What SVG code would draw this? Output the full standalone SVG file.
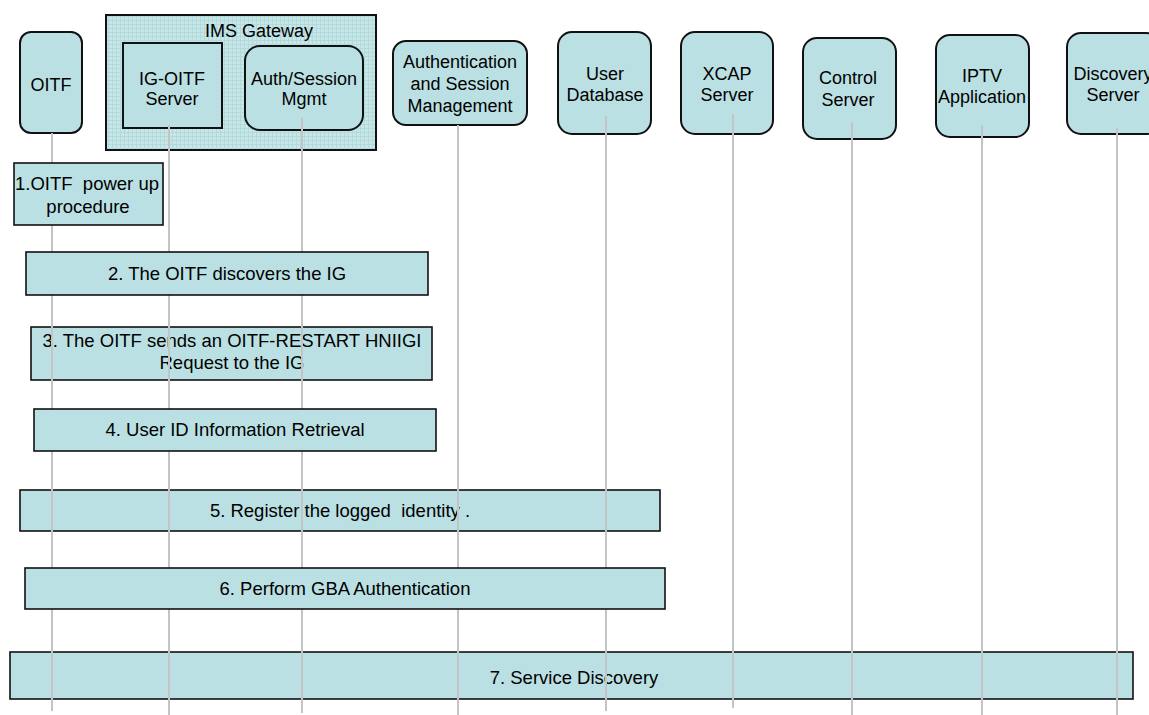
<svg xmlns="http://www.w3.org/2000/svg" width="1149" height="715" viewBox="0 0 1149 715">
<defs>
<pattern id="grid" width="4" height="4" patternUnits="userSpaceOnUse">
<rect width="4" height="4" fill="#c6e6e8"/>
<path d="M0 0.5H4M0.5 0V4" stroke="#b2d9dc" stroke-width="1"/>
</pattern>
</defs>
<style>
text{font-family:"Liberation Sans",Arial,sans-serif;font-size:18px;fill:#000;text-anchor:middle;white-space:pre}
.node{fill:#bae0e3;stroke:#111;stroke-width:2}
.step{fill:#bae0e3;stroke:#111;stroke-width:1.6}
.st{font-size:18.5px}
.life line{stroke:#c4c4c4;stroke-width:2}
</style>
<rect width="1149" height="715" fill="#fff"/>

<g id="ims-gateway">
<rect x="106" y="15" width="270" height="135" fill="url(#grid)" stroke="#111" stroke-width="2"/>
<text x="259" y="37">IMS Gateway</text>
</g>
<g id="oitf">
<rect class="node" x="20" y="32" width="62" height="101" rx="11"/>
<text x="51" y="91">OITF</text>
</g>
<g id="ig-oitf-server">
<rect class="node" x="123" y="43" width="99" height="85"/>
<text x="172" y="85">IG-OITF</text>
<text x="172" y="105">Server</text>
</g>
<g id="auth-session-mgmt">
<rect class="node" x="245" y="46" width="118" height="84" rx="15"/>
<text x="304" y="85">Auth/Session</text>
<text x="304" y="105">Mgmt</text>
</g>
<g id="authentication-session-management">
<rect class="node" x="393" y="41" width="134" height="84" rx="13"/>
<text x="460" y="68">Authentication</text>
<text x="460" y="90">and Session</text>
<text x="460" y="112">Management</text>
</g>
<g id="user-database">
<rect class="node" x="558" y="32" width="93" height="102" rx="14"/>
<text x="605" y="80">User</text>
<text x="605" y="101">Database</text>
</g>
<g id="xcap-server">
<rect class="node" x="681" y="32" width="92" height="102" rx="14"/>
<text x="727" y="80">XCAP</text>
<text x="727" y="101">Server</text>
</g>
<g id="control-server">
<rect class="node" x="803" y="38" width="93" height="101" rx="14"/>
<text x="848" y="84">Control</text>
<text x="848" y="106">Server</text>
</g>
<g id="iptv-application">
<rect class="node" x="936" y="35" width="93" height="102" rx="14"/>
<text x="982" y="82">IPTV</text>
<text x="982" y="103">Application</text>
</g>
<g id="discovery-server">
<rect class="node" x="1067" y="33" width="93" height="101" rx="14"/>
<text x="1113" y="80">Discovery</text>
<text x="1113" y="101">Server</text>
</g>

<g id="step3">
<rect class="step" x="31" y="327" width="401" height="53"/>
<text class="st" x="232" y="347">3. The OITF sends an OITF-RESTART HNIIGI</text>
<text class="st" x="232" y="369">Request to the IG</text>
</g>
<g id="step5">
<rect class="step" x="20" y="490" width="640" height="41"/>
<text class="st" x="340" y="517">5. Register the logged  identity .</text>
</g>
<g id="step7">
<rect class="step" x="10" y="652" width="1123" height="47"/>
<text class="st" x="574" y="684">7. Service Discovery</text>
</g>

<g id="connectors" class="life">
<line x1="52" y1="133" x2="52" y2="711"/>
<line x1="169" y1="125" x2="169" y2="715"/>
<line x1="302" y1="118" x2="302" y2="713"/>
<line x1="458" y1="125" x2="458" y2="715"/>
<line x1="606" y1="116" x2="606" y2="711"/>
<line x1="733" y1="114" x2="733" y2="708"/>
<line x1="852" y1="122" x2="852" y2="715"/>
<line x1="982" y1="125" x2="982" y2="715"/>
<line x1="1117" y1="128" x2="1117" y2="715"/>
</g>

<g id="step1">
<rect class="step" x="14" y="163" width="149" height="62"/>
<text class="st" x="87" y="190">1.OITF  power up</text>
<text class="st" x="88" y="213">procedure</text>
</g>
<g id="step2">
<rect class="step" x="26" y="252" width="402" height="43"/>
<text class="st" x="227" y="280">2. The OITF discovers the IG</text>
</g>
<g id="step4">
<rect class="step" x="34" y="409" width="402" height="42"/>
<text class="st" x="235" y="436">4. User ID Information Retrieval</text>
</g>
<g id="step6">
<rect class="step" x="25" y="568" width="640" height="41"/>
<text class="st" x="345" y="595">6. Perform GBA Authentication</text>
</g>
</svg>
